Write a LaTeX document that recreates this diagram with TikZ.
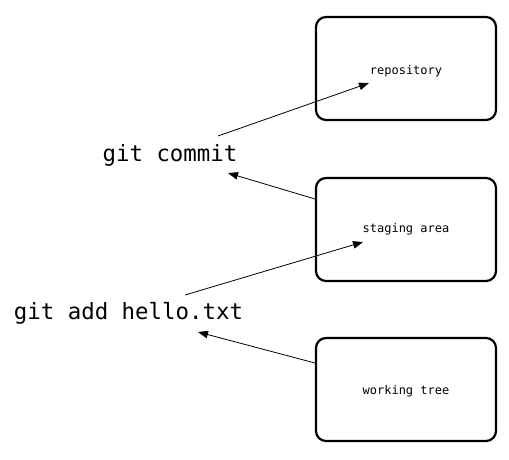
\documentclass[tikz,border=0pt]{standalone}
\usepackage{fontspec}
\setmonofont{DejaVu Sans Mono}
\usetikzlibrary{arrows.meta}
\tikzset{
  area/.style={draw, line width=2.2pt, rounded corners=10pt, minimum width=180pt, minimum height=103pt, inner sep=0pt},
  arealabel/.style={inner sep=0pt, font=\ttfamily\fontsize{12}{14}\selectfont},
  cmd/.style={inner sep=0pt, font=\ttfamily\fontsize{22.4}{26}\selectfont},
  flow/.style={line width=0.8pt, -{Triangle[length=10pt,width=7.5pt]}}
}
\begin{document}
\begin{tikzpicture}[x=1pt,y=-1pt]
\useasboundingbox (0,0) rectangle (509,460);
\node[area] (repo) at (406,68.5) {};
\node[area] (stage) at (406,229.5) {};
\node[area] (tree) at (406,389.5) {};
\node[arealabel] (repol) at (406,71) {repository};
\node[arealabel] (stagel) at (406,229.5) {staging area};
\node[arealabel] (treel) at (406,391.5) {working tree};
\node[cmd] (commit) at (170,155) {git commit};
\node[cmd] (add) at (128.5,313) {git add hello.txt};
\coordinate (c1s) at (218,136);
\coordinate (c1e) at (369,83);
\coordinate (c2s) at (315,199);
\coordinate (c2e) at (228,173);
\coordinate (a1s) at (185,295);
\coordinate (a1e) at (363,242);
\coordinate (a2s) at (315,363);
\coordinate (a2e) at (198,332);
\draw[flow] (c1s) -- (c1e);
\draw[flow] (c2s) -- (c2e);
\draw[flow] (a1s) -- (a1e);
\draw[flow] (a2s) -- (a2e);
\end{tikzpicture}
\end{document}
